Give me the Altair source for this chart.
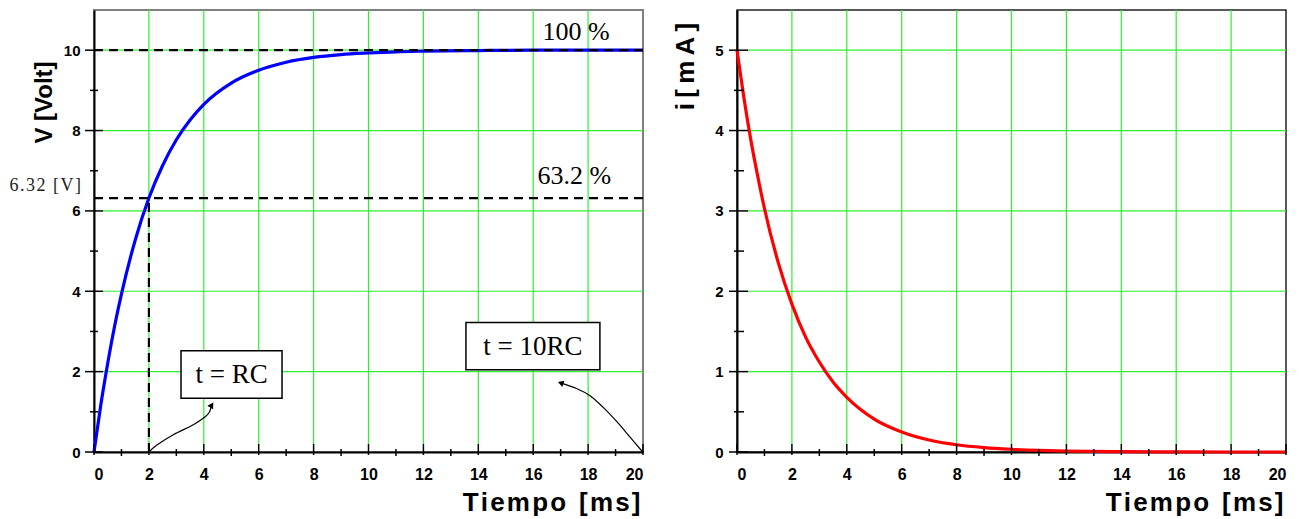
import altair as alt
import pandas as pd

# ---------------- data ----------------
t_ms = [0, 0.25, 0.5, 0.75, 1, 1.5, 2, 2.5, 3, 3.5, 4, 5, 6, 7, 8, 9, 10, 11, 12, 14, 16, 18, 20]
v_volt = [0, 1.18, 2.21, 3.13, 3.93, 5.27, 6.32, 7.13, 7.77, 8.26, 8.65, 9.18, 9.50, 9.70, 9.82,
          9.89, 9.93, 9.96, 9.975, 9.99, 10.0, 10.0, 10.0]
i_ma = [5.0, 4.41, 3.89, 3.44, 3.03, 2.36, 1.84, 1.43, 1.12, 0.87, 0.68, 0.41, 0.25, 0.15, 0.09,
        0.055, 0.034, 0.02, 0.012, 0.005, 0.002, 0.0, 0.0]

x_major = [0, 2, 4, 6, 8, 10, 12, 14, 16, 18, 20]
x_minor = [1, 3, 5, 7, 9, 11, 13, 15, 17, 19]
x_grid = [2, 4, 6, 8, 10, 12, 14, 16, 18]
v_major = [0, 2, 4, 6, 8, 10]
v_minor = [1, 3, 5, 7, 9]
v_grid = [2, 4, 6, 8, 10]
i_major = [0, 1, 2, 3, 4, 5]
i_minor = [0.5, 1.5, 2.5, 3.5, 4.5]
i_grid = [1, 2, 3, 4, 5]

# reference (dashed) lines: 100 %, 63.2 % and t = RC
ref_x = [0, 0, 2]
ref_x2 = [20, 20, 2]
ref_y = [10, 6.32, 0]
ref_y2 = [10, 6.32, 6.32]

# annotation texts
pct_labels = ["100 %", "63.2 %"]
pct_x = [17.56, 17.5]
pct_y = [10.45, 6.88]
v_label = ["6.32 [V]"]
v_label_x = [-0.47]
v_label_y = [6.61]

box_labels = ["t = RC", "t = 10RC"]
box_x1 = [3.17, 13.55]
box_x2 = [6.85, 18.43]
box_y1 = [1.34, 2.05]
box_y2 = [2.52, 3.22]

# arrow paths (data coordinates)
arrow1_x = [2.0, 2.28, 2.89, 3.62, 4.04, 4.2, 4.29]
arrow1_y = [0.0, 0.17, 0.43, 0.68, 0.87, 0.99, 1.17]
arrow2_x = [19.99, 19.53, 19.04, 18.55, 18.07, 17.58, 17.0]
arrow2_y = [0.0, 0.37, 0.76, 1.11, 1.40, 1.58, 1.72]

W, H = 549, 442
SANS = "Liberation Sans"
SERIF = "Liberation Serif"
GREEN = "#2ef02e"
HS = "\u200a"
TS = "\u2009"
EN = "\u2002"


def spaced(s, sep):
    return sep.join(list(s))


xscale = alt.Scale(domain=[0, 20], nice=False, zero=False)


def xaxis():
    return alt.Axis(values=x_major, ticks=False, grid=False, labelFont=SANS, labelFontSize=16,
                    labelFontWeight="bold", labelColor="black", labelPadding=14,
                    domainColor="black", domainWidth=2,
                    title=spaced("Tiempo", HS) + EN + spaced("[ms]", HS), titleFont=SANS,
                    titleFontSize=26, titleFontWeight="bold", titleColor="black", titleAlign="right",
                    titleX=W - 3, titleY=58, titleBaseline="alphabetic")


def panel(yvals, ydomain, ymajor, yminor, ygrid, color, ytitle, ytitle_size, ytx, yty,
          ymaj_in, ymaj_out, ymin_in, ymin_out):
    yscale = alt.Scale(domain=ydomain, nice=False, zero=False)
    yaxis = alt.Axis(values=ymajor, format="d", ticks=False, grid=False, labelFont=SANS,
                     labelFontSize=15, labelFontWeight="bold", labelColor="black", labelPadding=14,
                     domainColor="black", domainWidth=2,
                     title=ytitle, titleFont=SANS, titleFontSize=ytitle_size, titleFontWeight="bold",
                     titleColor="black", titleAngle=-90, titleX=ytx, titleY=yty,
                     titleAlign="center", titleBaseline="middle", titleLimit=300)
    df = pd.DataFrame({"t": t_ms, "y": yvals})
    gx = alt.Chart(pd.DataFrame({"g": x_grid})).mark_rule(color=GREEN, strokeWidth=1.2).encode(
        x=alt.X("g:Q", scale=xscale), y=alt.value(0), y2=alt.value(H - 8))
    gy = alt.Chart(pd.DataFrame({"g": ygrid})).mark_rule(color=GREEN, strokeWidth=1.2).encode(
        y=alt.Y("g:Q", scale=yscale), x=alt.value(ymaj_in), x2=alt.value(W))
    curve = alt.Chart(df).mark_line(color=color, strokeWidth=3.2, interpolate="monotone").encode(
        x=alt.X("t:Q", scale=xscale, axis=xaxis()),
        y=alt.Y("y:Q", scale=yscale, axis=yaxis))
    txm = alt.Chart(pd.DataFrame({"v": x_major})).mark_rule(color="black", strokeWidth=1.5).encode(
        x=alt.X("v:Q", scale=xscale), y=alt.value(H - 8), y2=alt.value(H + 3))
    txn = alt.Chart(pd.DataFrame({"v": x_minor})).mark_rule(color="black", strokeWidth=1.5).encode(
        x=alt.X("v:Q", scale=xscale), y=alt.value(H - 3), y2=alt.value(H + 4))
    tym = alt.Chart(pd.DataFrame({"v": ymajor})).mark_rule(color="black", strokeWidth=1.5).encode(
        y=alt.Y("v:Q", scale=yscale), x=alt.value(-ymaj_out), x2=alt.value(ymaj_in))
    tyn = alt.Chart(pd.DataFrame({"v": yminor})).mark_rule(color="black", strokeWidth=1.5).encode(
        y=alt.Y("v:Q", scale=yscale), x=alt.value(-ymin_out), x2=alt.value(ymin_in))
    layers = [gx, gy, curve]
    return layers, [txm, txn, tym, tyn], yscale


# ---------------- left panel ----------------
l_layers, l_ticks, vscale = panel(v_volt, [0, 11], v_major, v_minor, v_grid, "#0000ff",
                                  "V [Volt]", 24, -50, 92, 9, 9, 4, 4)

refs = alt.Chart(pd.DataFrame({"x": ref_x, "x2": ref_x2, "y": ref_y, "y2": ref_y2})).mark_rule(
    color="black", strokeWidth=2.2, strokeDash=[9, 6]).encode(
    x=alt.X("x:Q", scale=xscale), x2="x2:Q", y=alt.Y("y:Q", scale=vscale), y2="y2:Q")

pct = alt.Chart(pd.DataFrame({"x": pct_x, "y": pct_y, "s": pct_labels})).mark_text(
    font=SERIF, fontSize=26, color="black", align="center", baseline="middle").encode(
    x=alt.X("x:Q", scale=xscale), y=alt.Y("y:Q", scale=vscale), text="s:N")

vlab_df = pd.DataFrame({"x": v_label_x, "y": v_label_y, "s": [spaced(s, HS) for s in v_label]})
vlab = alt.Chart(vlab_df).mark_text(
    font=SERIF, fontSize=18, color="#222", align="right", baseline="middle").encode(
    x=alt.X("x:Q", scale=xscale), y=alt.Y("y:Q", scale=vscale), text="s:N")

box_df = pd.DataFrame({"x1": box_x1, "x2": box_x2, "y1": box_y1, "y2": box_y2, "s": box_labels})
box_df["xc"] = (box_df["x1"] + box_df["x2"]) / 2
box_df["yc"] = (box_df["y1"] + box_df["y2"]) / 2
boxes = alt.Chart(box_df).mark_rect(fill="white", stroke="black", strokeWidth=1.5).encode(
    x=alt.X("x1:Q", scale=xscale), x2="x2:Q", y=alt.Y("y1:Q", scale=vscale), y2="y2:Q")
box_txt = alt.Chart(box_df).mark_text(font=SERIF, fontSize=27, color="black", align="center",
                                      baseline="middle", dy=1).encode(
    x=alt.X("xc:Q", scale=xscale), y=alt.Y("yc:Q", scale=vscale), text="s:N")

arr_df = pd.DataFrame({
    "x": arrow1_x + arrow2_x, "y": arrow1_y + arrow2_y,
    "k": ["a"] * len(arrow1_x) + ["b"] * len(arrow2_x),
    "o": list(range(len(arrow1_x))) + list(range(len(arrow2_x)))})
arrows = alt.Chart(arr_df).mark_line(color="black", strokeWidth=1.2, interpolate="cardinal").encode(
    x=alt.X("x:Q", scale=xscale), y=alt.Y("y:Q", scale=vscale), detail="k:N", order="o:Q")
head1 = alt.Chart(pd.DataFrame({"x": arrow1_x[-1:], "y": arrow1_y[-1:]})).mark_point(
    shape="triangle-up", filled=True, color="black", size=45, angle=32, opacity=1).encode(
    x=alt.X("x:Q", scale=xscale), y=alt.Y("y:Q", scale=vscale))
head2 = alt.Chart(pd.DataFrame({"x": arrow2_x[-1:], "y": arrow2_y[-1:]})).mark_point(
    shape="triangle-up", filled=True, color="black", size=45, angle=289, opacity=1).encode(
    x=alt.X("x:Q", scale=xscale), y=alt.Y("y:Q", scale=vscale))

left = alt.layer(*l_layers, refs, *l_ticks, pct, vlab, arrows, head1, head2, boxes, box_txt).properties(
    width=W, height=H, view=alt.ViewBackground(stroke="#808080", strokeWidth=2))

# ---------------- right panel ----------------
r_layers, r_ticks, iscale = panel(i_ma, [0, 5.5], i_major, i_minor, i_grid, "#ff0000",
                                  spaced("i[mA]", TS), 26, -52, 56, 11, 8, 7, 3)
right = alt.layer(*r_layers, *r_ticks).properties(
    width=W, height=H, view=alt.ViewBackground(stroke="#222222", strokeWidth=1.5))

chart = alt.hconcat(left, right, spacing=20).properties(
    padding={"left": 0, "top": 0, "right": 0, "bottom": 0}
).configure_view(stroke="#808080")

chart.save("out.html", embed_options={"renderer": "svg", "actions": False})
